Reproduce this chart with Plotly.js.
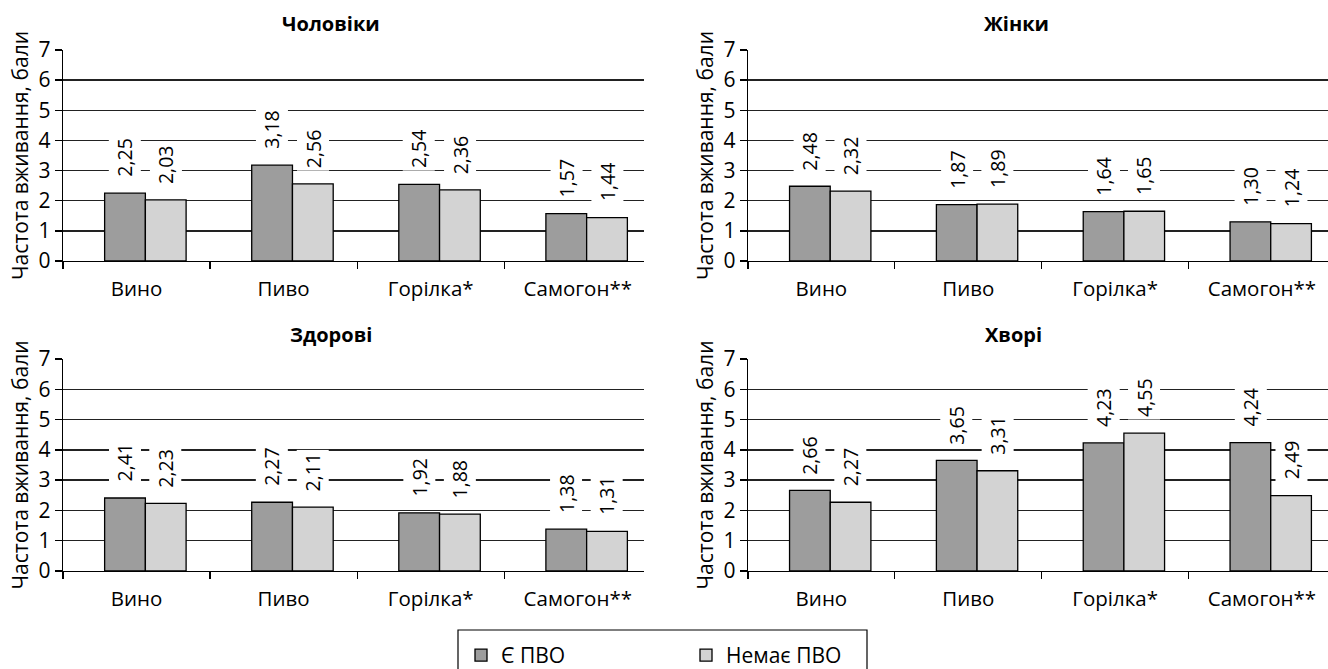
<!DOCTYPE html>
<html>
<head>
<meta charset="utf-8">
<script src="https://cdn.plot.ly/plotly-3.0.1.min.js"></script>
<style>html,body{margin:0;padding:0;background:#fff;}#chart{width:1328px;height:669px;}</style>
</head>
<body>
<div id="chart"></div>
<script>
const categories = ['Вино', 'Пиво', 'Горілка*', 'Самогон**'];
const panelTitles = ['Чоловіки', 'Жінки', 'Здорові', 'Хворі'];
const seriesNames = ['Є ПВО', 'Немає ПВО'];
const yTickVals = [0, 1, 2, 3, 4, 5, 6, 7];
const yTitle = 'Частота вживання, бали';

const menYes = [2.25, 3.18, 2.54, 1.57];
const menNo = [2.03, 2.56, 2.36, 1.44];
const womenYes = [2.48, 1.87, 1.64, 1.30];
const womenNo = [2.32, 1.89, 1.65, 1.24];
const healthyYes = [2.41, 2.27, 1.92, 1.38];
const healthyNo = [2.23, 2.11, 1.88, 1.31];
const sickYes = [2.66, 3.65, 4.23, 4.24];
const sickNo = [2.27, 3.31, 4.55, 2.49];

const panels = [
  [menYes, menNo],
  [womenYes, womenNo],
  [healthyYes, healthyNo],
  [sickYes, sickNo]
];

const FONT = 'Open Sans, Noto Sans, DejaVu Sans, sans-serif';
const colors = ['#9d9d9d', '#d3d3d3'];
const barW = 0.277;
const shift = 0.06;
const offsets = [-barW + shift, shift];

const W = 1328, H = 669;
const xDomains = [[63 / W, 644 / W], [748 / W, 1]];
const yDomains = [[1 - 261 / H, 1 - 50 / H], [1 - 571 / H, 1 - 359 / H]];
const titlePos = [[331, 24], [1016, 24], [331, 334], [1014, 334]];

const traces = [];
const annotations = [];
const layout = {
  width: W, height: H,
  margin: {l: 0, r: 0, t: 0, b: 0, autoexpand: false},
  paper_bgcolor: '#fff', plot_bgcolor: '#fff',
  barmode: 'overlay',
  font: {family: FONT, color: '#000', size: 20},
  showlegend: true,
  legend: {
    orientation: 'h', x: 461 / W, xanchor: 'left', y: 1 - 635 / H, yanchor: 'top',
    borderwidth: 0, bgcolor: 'rgba(0,0,0,0)',
    font: {family: FONT, size: 21, color: '#000'},
    entrywidth: 180, entrywidthmode: 'pixels', traceorder: 'normal'
  },
  shapes: [{
    type: 'rect', xref: 'paper', yref: 'paper',
    x0: 458 / W, x1: 867 / W, y0: -0.05, y1: 1 - 630 / H,
    line: {color: '#000', width: 1.2}, fillcolor: 'rgba(0,0,0,0)', layer: 'above'
  }],
  annotations: annotations
};

panels.forEach((series, p) => {
  const sfx = p === 0 ? '' : String(p + 1);
  const col = p % 2, row = Math.floor(p / 2);
  series.forEach((vals, s) => {
    traces.push({
      type: 'bar',
      x: categories,
      y: vals,
      name: seriesNames[s],
      legendgroup: seriesNames[s],
      showlegend: p === 0,
      xaxis: 'x' + sfx, yaxis: 'y' + sfx,
      width: barW,
      offset: offsets[s],
      marker: {color: colors[s], line: {color: '#000', width: 1.3}},
      hoverinfo: 'skip'
    });
    vals.forEach((v, i) => {
      annotations.push({
        xref: 'x' + sfx, yref: 'y' + sfx,
        x: i + offsets[s] + barW / 2, y: v,
        text: v.toFixed(2).replace('.', ','),
        textangle: -90,
        showarrow: false,
        xanchor: 'center', yanchor: 'bottom',
        yshift: 13,
        bgcolor: '#fff', borderpad: 2,
        font: {family: FONT, size: 19.5, color: '#000'}
      });
    });
  });
  layout['xaxis' + sfx] = {
    domain: xDomains[col],
    anchor: 'y' + sfx,
    type: 'category',
    range: [-0.5, 3.45],
    showgrid: false, zeroline: false,
    showline: true, linecolor: '#000', linewidth: 1.3,
    ticks: 'outside', tickson: 'boundaries', ticklen: 7, tickwidth: 1.3, tickcolor: '#000',
    ticklabelstandoff: 9,
    tickfont: {family: FONT, size: 20.5, color: '#000'},
    fixedrange: true
  };
  layout['yaxis' + sfx] = {
    domain: yDomains[row],
    anchor: 'x' + sfx,
    range: [0, 7],
    tickvals: yTickVals,
    showgrid: true, gridcolor: '#222', gridwidth: 1.4,
    zeroline: false,
    showline: true, linecolor: '#000', linewidth: 1.3,
    ticks: 'outside', ticklen: 7, tickwidth: 1.3, tickcolor: '#000',
    tickfont: {family: FONT, size: 21, color: '#000'},
    title: {text: yTitle, font: {family: FONT, size: 21, color: '#000'}, standoff: 4},
    fixedrange: true
  };
  annotations.push({
    xref: 'paper', yref: 'paper',
    x: titlePos[p][0] / W, y: 1 - titlePos[p][1] / H,
    xanchor: 'center', yanchor: 'middle',
    text: '<b>' + panelTitles[p] + '</b>',
    showarrow: false,
    font: {family: FONT, size: 20, color: '#000'}
  });
});

Plotly.newPlot('chart', traces, layout, {displayModeBar: false, staticPlot: true});
</script>
</body>
</html>
